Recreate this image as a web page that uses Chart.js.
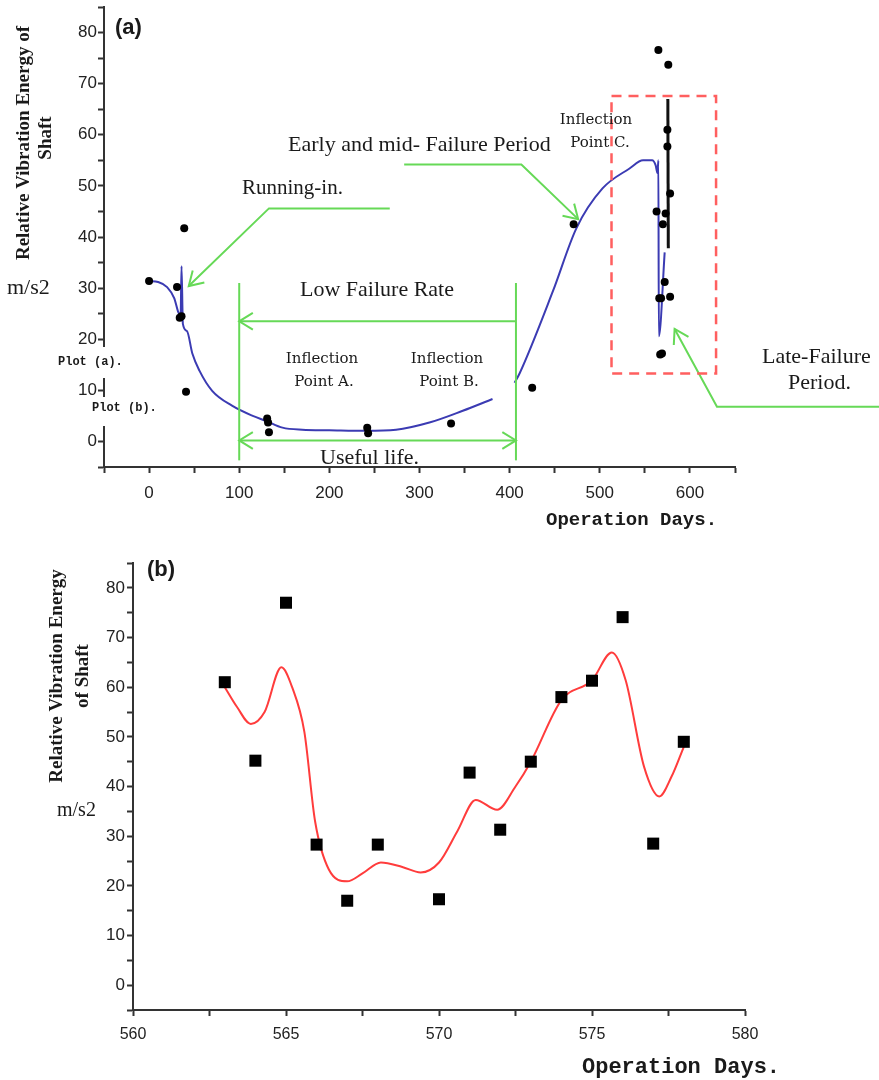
<!DOCTYPE html>
<html><head><meta charset="utf-8">
<script src="https://cdn.jsdelivr.net/npm/chart.js@4/dist/chart.umd.min.js"></script>
<style>
body{margin:0;background:#fff;width:879px;height:1080px;position:relative;overflow:hidden}
canvas{position:absolute;left:0}
</style></head><body>
<canvas id="ca" width="879" height="540" style="top:0"></canvas>
<canvas id="cb" width="879" height="540" style="top:540px"></canvas>
<script>
// ---------- Plot (a): measured points ----------
const aEarlyDays = [0, 31, 34, 36, 39, 41, 131, 132, 133, 242, 243, 335, 425, 471];
const aEarlyVals = [31.4, 30.2, 24.2, 24.5, 41.7, 9.7, 4.5, 3.7, 1.8, 2.7, 1.6, 3.5, 10.5, 42.5];
const aLateDays = [565, 576, 575, 575, 578, 563, 573, 570, 572, 566, 568, 578, 567, 569];
const aLateVals = [76.6, 73.7, 61, 57.7, 48.5, 45, 44.6, 42.5, 31.2, 28, 28, 28.3, 17, 17.2];
// blue fitted curve, running-in + useful life
const blueRunDays = [0, 10, 20, 28, 32, 35, 36, 37.5, 42, 48, 56, 70, 92, 115, 130, 148, 170, 200, 240, 274, 311, 348, 381];
const blueRunVals = [31.4, 31.2, 30.2, 28, 25.5, 24.5, 34.3, 23, 21.6, 17.2, 13.8, 9.9, 7, 5, 4, 2.7, 2.3, 2.2, 2.1, 2.3, 3.7, 6, 8.3];
// blue fitted curve, failure period
const blueFailDays = [405.5, 411, 448, 474, 503, 533, 548, 558, 562, 564, 565, 565.5, 572];
const blueFailVals = [11.5, 13.3, 29.4, 41.7, 49.5, 53.4, 55, 55, 54, 52.5, 55, 20.6, 37];
// compressed black curve of plot (b)
const blackDays = [575.5, 576];
const blackVals = [67, 37.8];
// ---------- Plot (b) ----------
const bDays = [563, 564, 565, 566, 567, 568, 570, 571, 572, 573, 574, 575, 576, 577, 578];
const bVals = [61, 45.2, 77, 28.3, 17, 28.3, 17.3, 42.8, 31.3, 45, 58, 61.3, 74.1, 28.5, 49];
const fitDays = [563, 563.4, 563.85, 564.3, 564.85, 565.2, 565.6, 565.95, 566.4, 567, 567.5, 568.1, 568.8, 569.4, 570, 570.6, 571.2, 571.9, 572.5, 573, 574, 575, 575.65, 576.1, 576.7, 577.2, 577.6, 578];
const fitVals = [60, 56, 52.6, 55, 64, 60, 51, 33, 23.3, 20.9, 22.5, 24.7, 23.8, 22.7, 24.7, 31, 37.3, 35.3, 40, 45, 57.4, 61.4, 67, 61.4, 44, 38, 42, 48];
// ---------- axis ticks ----------
const aXLabels = [0, 100, 200, 300, 400, 500, 600];
const yLabels = [0, 10, 20, 30, 40, 50, 60, 70, 80];
const bXLabels = [560, 565, 570, 575, 580];

const pts = (xs, ys) => xs.map((x, i) => ({x, y: ys[i]}));
const AX = '#333', TXT = '#1a1a1a', GREEN = '#66d957';

function axis(opts) {
  return Object.assign({
    type: 'linear',
    border: {display: true, color: AX, width: 2},
    grid: {drawOnChartArea: false, drawTicks: true, tickLength: 6, tickColor: AX, tickWidth: 2},
  }, opts);
}
function tickFont(size) { return {family: '"Liberation Sans", Arial, sans-serif', size: size, lineHeight: 0.7}; }

function drawText(ctx, list) {
  for (const t of list) {
    ctx.save();
    ctx.font = t.font; ctx.fillStyle = t.color || TXT;
    ctx.textAlign = t.align || 'left'; ctx.textBaseline = 'middle';
    ctx.translate(t.x, t.y);
    if (t.rot) ctx.rotate(-Math.PI / 2);
    ctx.fillText(t.t, 0, 0);
    ctx.restore();
  }
}
function arrowHead(ctx, fx, fy, tx, ty) {
  const a = Math.atan2(ty - fy, tx - fx), L = 16, A = 0.55;
  ctx.beginPath();
  ctx.moveTo(tx - L * Math.cos(a - A), ty - L * Math.sin(a - A));
  ctx.lineTo(tx, ty);
  ctx.lineTo(tx - L * Math.cos(a + A), ty - L * Math.sin(a + A));
  ctx.stroke();
}

// ---------- annotation layout for (a) (in data units) ----------
const aGuides = [
  {p: [[267, 45.6], [133, 45.6], [44, 30.4]], end: true},
  {p: [[407, 23.5], [100, 23.5]], end: true},
  {p: [[100, 0.2], [407, 0.2]], start: true, end: true},
  {p: [[100, 31], [100, -3.7]]},
  {p: [[407, 31], [407, -3.7]]},
  {p: [[283, 54.2], [413, 54.2], [476, 43.5]], end: true},
  {p: [[810, 6.8], [630, 6.8], [583, 22]], end: true}
];
const aBox = {x0: 513, x1: 629, y0: 13.3, y1: 67.6};
// white label boxes (pixels) that mask the axis behind "Plot (a)/(b)"
const aMasks = [[56, 347, 79, 31], [89, 397, 79, 29]];
const serif = '"Liberation Serif", "Times New Roman", serif';
const cent = '"DejaVu Serif", serif';
const mono = '"Liberation Mono", "Courier New", monospace';
const aTexts = [
  {t: '(a)', x: 115, y: 28, font: 'bold 22px "Liberation Sans", Arial'},
  {t: 'Relative Vibration Energy of', x: 24, y: 143, rot: true, align: 'center', font: 'bold 19px ' + serif},
  {t: 'Shaft', x: 46, y: 138, rot: true, align: 'center', font: 'bold 19px ' + serif},
  {t: 'm/s2', x: 7, y: 288, font: '22px ' + serif},
  {t: 'Plot (a).', x: 58, y: 362, font: 'bold 12px ' + mono},
  {t: 'Plot (b).', x: 92, y: 408, font: 'bold 12px ' + mono},
  {t: 'Running-in.', x: 242, y: 188, font: '21px ' + serif},
  {t: 'Early and mid- Failure Period', x: 288, y: 145, font: '22px ' + serif},
  {t: 'Inflection', x: 596, y: 120, align: 'center', font: '15px ' + cent},
  {t: 'Point C.', x: 600, y: 143, align: 'center', font: '15px ' + cent},
  {t: 'Low Failure Rate', x: 300, y: 290, font: '22px ' + serif},
  {t: 'Inflection', x: 322, y: 359, align: 'center', font: '15px ' + cent},
  {t: 'Point A.', x: 324, y: 382, align: 'center', font: '15px ' + cent},
  {t: 'Inflection', x: 447, y: 359, align: 'center', font: '15px ' + cent},
  {t: 'Point B.', x: 449, y: 382, align: 'center', font: '15px ' + cent},
  {t: 'Useful life.', x: 320, y: 458, font: '22px ' + serif},
  {t: 'Late-Failure', x: 762, y: 357, font: '22px ' + serif},
  {t: 'Period.', x: 788, y: 383, font: '22px ' + serif},
  {t: 'Operation Days.', x: 546, y: 520, font: 'bold 19px ' + mono}
];
const bTexts = [
  {t: '(b)', x: 147, y: 30, font: 'bold 22px "Liberation Sans", Arial'},
  {t: 'Relative Vibration Energy', x: 57, y: 136, rot: true, align: 'center', font: 'bold 19px ' + serif},
  {t: 'of Shaft', x: 83, y: 136, rot: true, align: 'center', font: 'bold 19px ' + serif},
  {t: 'm/s2', x: 57, y: 271, font: '20px ' + serif},
  {t: 'Operation Days.', x: 582, y: 527, font: 'bold 22px ' + mono}
];

const annotA = {
  id: 'annotA',
  afterDatasetsDraw(chart) {
    const ctx = chart.ctx, X = chart.scales.x, Y = chart.scales.y;
    ctx.save();
    ctx.strokeStyle = GREEN; ctx.lineWidth = 2; ctx.lineJoin = 'miter';
    for (const g of aGuides) {
      const q = g.p.map(([x, y]) => [X.getPixelForValue(x), Y.getPixelForValue(y)]);
      ctx.beginPath(); ctx.moveTo(q[0][0], q[0][1]);
      for (let i = 1; i < q.length; i++) ctx.lineTo(q[i][0], q[i][1]);
      ctx.stroke();
      const n = q.length;
      if (g.end) arrowHead(ctx, q[n - 2][0], q[n - 2][1], q[n - 1][0], q[n - 1][1]);
      if (g.start) arrowHead(ctx, q[1][0], q[1][1], q[0][0], q[0][1]);
    }
    ctx.strokeStyle = '#ff5f5f'; ctx.lineWidth = 2.5; ctx.setLineDash([10, 7]);
    const x0 = X.getPixelForValue(aBox.x0), x1 = X.getPixelForValue(aBox.x1);
    const y0 = Y.getPixelForValue(aBox.y0), y1 = Y.getPixelForValue(aBox.y1);
    ctx.strokeRect(x0, y1, x1 - x0, y0 - y1);
    ctx.restore();
  },
  afterDraw(chart) {
    const ctx = chart.ctx;
    ctx.save(); ctx.fillStyle = '#fff';
    for (const m of aMasks) ctx.fillRect(m[0], m[1], m[2], m[3]);
    ctx.restore();
    drawText(ctx, aTexts);
  }
};
const annotB = { id: 'annotB', afterDraw(chart) { drawText(chart.ctx, bTexts); } };

const commonPlugins = {legend: {display: false}, tooltip: {enabled: false}};

new Chart(document.getElementById('ca'), {
  type: 'scatter',
  data: {datasets: [
    {data: pts(aEarlyDays, aEarlyVals).concat(pts(aLateDays, aLateVals)), pointRadius: 4, pointBackgroundColor: '#000', pointBorderWidth: 0, showLine: false},
    {data: pts(blackDays, blackVals), showLine: true, borderColor: '#111', borderWidth: 3, pointRadius: 0},
    {data: pts(blueRunDays, blueRunVals), showLine: true, borderColor: '#3b3bb3', borderWidth: 2, pointRadius: 0, cubicInterpolationMode: 'monotone'},
    {data: pts(blueFailDays, blueFailVals), showLine: true, borderColor: '#3b3bb3', borderWidth: 2, pointRadius: 0, cubicInterpolationMode: 'monotone'}
  ]},
  options: {
    responsive: false, animation: false, devicePixelRatio: 1,
    layout: {padding: {left: 0, top: 7, right: 144, bottom: 0}},
    plugins: commonPlugins,
    scales: {
      x: axis({min: -50, max: 650, afterFit(s) { s.height = 73; },
        ticks: {stepSize: 50, autoSkip: false, maxRotation: 0, padding: 14, color: '#222', font: tickFont(17),
          callback: v => aXLabels.includes(v) ? String(v) : ''}}),
      y: axis({min: -5, max: 85, afterFit(s) { s.width = 104; },
        ticks: {stepSize: 5, autoSkip: false, padding: 1, color: '#222', font: tickFont(17),
          callback: v => yLabels.includes(v) ? String(v) : ''}})
    }
  },
  plugins: [annotA]
});

new Chart(document.getElementById('cb'), {
  type: 'scatter',
  data: {datasets: [
    {data: pts(bDays, bVals), pointStyle: 'rect', pointRadius: 8.5, pointBackgroundColor: '#000', pointBorderWidth: 0, showLine: false},
    {data: pts(fitDays, fitVals), showLine: true, borderColor: '#ff3c3c', borderWidth: 2, pointRadius: 0, cubicInterpolationMode: 'monotone'}
  ]},
  options: {
    responsive: false, animation: false, devicePixelRatio: 1,
    layout: {padding: {left: 0, top: 23, right: 134, bottom: 0}},
    plugins: commonPlugins,
    scales: {
      x: axis({min: 560, max: 580, afterFit(s) { s.height = 70; },
        ticks: {stepSize: 2.5, autoSkip: false, maxRotation: 0, padding: 13, color: '#222', font: tickFont(16),
          callback: v => bXLabels.includes(v) ? String(v) : ''}}),
      y: axis({min: -5, max: 85, afterFit(s) { s.width = 133; },
        ticks: {stepSize: 5, autoSkip: false, padding: 2, color: '#222', font: tickFont(17),
          callback: v => yLabels.includes(v) ? String(v) : ''}})
    }
  },
  plugins: [annotB]
});
</script>
</body></html>
